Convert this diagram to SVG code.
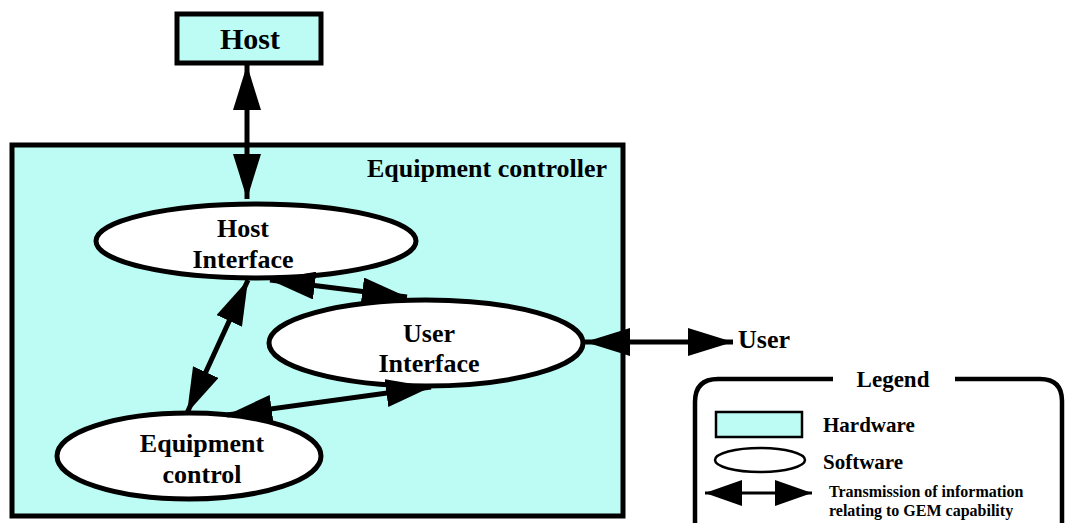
<svg xmlns="http://www.w3.org/2000/svg" width="1065" height="523" viewBox="0 0 1065 523">
<style>
.hw{fill:#bdfcf5;stroke:#000;stroke-width:5}
.sw{fill:#fff;stroke:#000;stroke-width:5}
.t{font-family:"Liberation Serif","Times New Roman",serif;font-weight:bold;fill:#000}
.c{stroke:#000;stroke-width:5;fill:none;marker-start:url(#ah);marker-end:url(#ah)}
</style>
<defs>
<marker id="ah" markerUnits="userSpaceOnUse" markerWidth="46" markerHeight="28" refX="45" refY="14" orient="auto-start-reverse" viewBox="0 0 46 28">
<path d="M0,0 L45,14 L0,28 z" fill="#000"/>
</marker>
<marker id="ahs" markerUnits="userSpaceOnUse" markerWidth="38" markerHeight="26" refX="37" refY="13" orient="auto-start-reverse" viewBox="0 0 38 26">
<path d="M0,0 L37,13 L0,26 z" fill="#000"/>
</marker>
</defs>
<g id="equipment-controller">
<rect class="hw" x="12" y="145" width="611" height="371"/>
<text class="t" x="607" y="177" font-size="26" text-anchor="end">Equipment controller</text>
</g>
<g id="host">
<rect class="hw" x="177" y="14" width="144" height="49" stroke-width="4.5"/>
<text class="t" x="250" y="49" font-size="30" text-anchor="middle">Host</text>
</g>
<g id="host-interface">
<ellipse class="sw" cx="256" cy="241" rx="160" ry="37"/>
<text class="t" x="243" y="237" font-size="26" text-anchor="middle">Host</text>
<text class="t" x="243" y="268" font-size="26" text-anchor="middle">Interface</text>
</g>
<g id="user-interface">
<ellipse class="sw" cx="426" cy="343" rx="157" ry="43"/>
<text class="t" x="429" y="342" font-size="26" text-anchor="middle">User</text>
<text class="t" x="429" y="372" font-size="26" text-anchor="middle">Interface</text>
</g>
<g id="equipment-control">
<ellipse class="sw" cx="189" cy="456" rx="132" ry="43"/>
<text class="t" x="202" y="452" font-size="26" text-anchor="middle">Equipment</text>
<text class="t" x="202" y="483" font-size="26" text-anchor="middle">control</text>
</g>
<g id="user">
<text class="t" x="738" y="348" font-size="26">User</text>
</g>
<g id="connectors">
<line class="c" x1="247" y1="65" x2="247" y2="199"/>
<line class="c" x1="248" y1="280" x2="187" y2="413"/>
<line class="c" x1="270" y1="280" x2="407" y2="297"/>
<line class="c" x1="227" y1="415" x2="431" y2="387"/>
<line class="c" x1="585" y1="342" x2="733" y2="342"/>
</g>
<g id="legend">
<path d="M833,379 H718 Q695,379 695,402 V530 M955,379 H1040 Q1062,379 1062,401 V530" fill="none" stroke="#000" stroke-width="4.5"/>
<text class="t" x="893" y="387" font-size="23" text-anchor="middle">Legend</text>
<rect x="716" y="412" width="86" height="25" fill="#bdfcf5" stroke="#000" stroke-width="2.5"/>
<text class="t" x="823" y="432" font-size="21">Hardware</text>
<ellipse cx="760" cy="460" rx="45" ry="12" fill="#fff" stroke="#000" stroke-width="2.5"/>
<text class="t" x="823" y="469" font-size="21">Software</text>
<line x1="705" y1="493" x2="812" y2="493" stroke="#000" stroke-width="3" marker-start="url(#ahs)" marker-end="url(#ahs)"/>
<text class="t" x="829" y="497" font-size="16">Transmission of information</text>
<text class="t" x="829" y="516" font-size="16">relating to GEM capability</text>
</g>
</svg>
